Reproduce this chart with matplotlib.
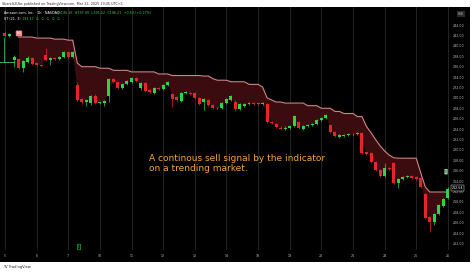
import numpy as np
import matplotlib.pyplot as plt
from matplotlib.patches import Rectangle

# hourly candles, open / high / low / close
opens = [242.5, 241.9, 237.3, 237.4, 235.8, 236.9, 237.6, 236.7, 236.3, 238.2,
         237.3, 237.6, 237.5, 237.9, 238.8, 237.9, 232.5, 229.8, 229.3, 229.0,
         230.4, 229.0, 229.0, 230.4, 233.6, 233.05, 231.9, 232.7, 233.1, 233.8,
         231.9, 232.9, 231.6, 230.9, 231.9, 231.7, 232.5, 230.75, 230.2, 229.4,
         230.9, 231.0, 230.9, 230.0, 229.2, 229.6, 228.6, 228.0, 228.0, 229.0,
         229.6, 229.2, 227.9, 228.5, 228.8, 229.05, 229.0, 228.9, 228.8, 225.4,
         225.0, 224.3, 224.0, 224.3, 224.6, 225.4, 224.0, 224.6, 224.8, 224.9,
         225.75, 226.1, 224.8, 223.4, 222.5, 222.7, 222.8, 223.0, 223.0, 223.25,
         219.6, 219.4, 217.7, 216.1, 215.0, 216.5, 217.5, 213.6, 214.4, 214.8,
         215.0, 214.7, 214.6, 211.5, 207.1, 206.1, 207.7, 209.2, 210.75]
highs = [242.8, 242.5, 238.2, 237.6, 237.2, 238.0, 237.9, 236.9, 236.4, 239.6,
         237.9, 237.8, 238.1, 239.0, 239.1, 239.0, 233.0, 230.0, 229.7, 230.6,
         230.7, 229.4, 229.6, 233.8, 233.9, 233.2, 232.9, 233.5, 234.0, 234.0,
         233.1, 233.1, 231.8, 232.1, 232.1, 232.7, 233.3, 231.0, 230.4, 231.1,
         231.3, 231.2, 231.1, 230.2, 230.0, 229.8, 228.8, 228.3, 229.2, 230.0,
         230.6, 229.5, 229.0, 229.0, 229.2, 229.2, 229.2, 229.3, 229.0, 225.6,
         225.2, 224.5, 224.5, 224.7, 226.8, 225.6, 224.8, 225.0, 225.1, 225.9,
         226.3, 226.9, 225.0, 223.6, 223.0, 223.1, 223.2, 223.3, 223.5, 223.5,
         219.8, 219.6, 217.9, 216.3, 217.5, 216.8, 217.7, 214.6, 215.0, 215.2,
         215.2, 214.9, 214.8, 211.8, 207.3, 207.9, 209.6, 210.8, 212.8]
lows = [241.7, 241.7, 236.0, 235.6, 235.0, 236.7, 236.4, 236.1, 235.9, 237.0,
        236.4, 237.3, 237.3, 237.7, 237.6, 237.7, 229.4, 228.9, 228.5, 228.7,
        228.8, 228.8, 228.4, 229.2, 232.9, 231.7, 231.7, 232.5, 232.9, 233.1,
        231.6, 231.1, 230.9, 230.7, 231.5, 231.5, 232.3, 228.25, 229.3, 229.2,
        230.7, 230.6, 229.8, 228.6, 227.7, 228.4, 227.8, 227.8, 227.8, 228.8,
        229.4, 227.5, 227.6, 228.3, 228.6, 228.7, 228.6, 228.7, 225.2, 224.9,
        224.2, 223.8, 223.8, 224.1, 224.4, 224.0, 223.8, 224.4, 224.6, 224.7,
        225.5, 225.9, 223.2, 222.5, 222.3, 222.5, 222.6, 222.8, 222.8, 219.2,
        219.0, 217.5, 215.9, 214.8, 214.8, 216.2, 213.4, 212.7, 214.2, 214.6,
        214.4, 214.2, 212.7, 206.7, 204.2, 205.5, 207.5, 209.0, 210.5]
closes = [241.9, 242.3, 237.9, 235.8, 237.0, 237.7, 236.6, 236.3, 236.1, 237.3,
          237.7, 237.5, 237.9, 238.8, 237.9, 238.8, 229.6, 229.2, 229.5, 230.4,
          229.0, 229.2, 229.4, 233.6, 233.05, 231.9, 232.7, 233.3, 233.8, 233.3,
          232.9, 231.3, 231.1, 231.9, 231.7, 232.5, 233.05, 229.8, 229.6, 230.9,
          231.1, 230.75, 230.0, 228.8, 229.8, 228.6, 228.0, 228.1, 229.0, 229.8,
          230.4, 227.9, 228.8, 228.8, 229.0, 228.9, 228.8, 229.0, 225.4, 225.2,
          224.4, 224.0, 224.3, 224.5, 226.6, 224.2, 224.6, 224.8, 224.9, 225.75,
          226.1, 226.7, 223.4, 222.7, 222.8, 222.9, 223.0, 223.1, 223.25, 219.4,
          219.2, 217.7, 216.1, 215.0, 216.5, 216.4, 213.6, 214.4, 214.8, 215.0,
          214.6, 214.4, 212.9, 206.9, 206.1, 207.7, 209.4, 210.6, 212.54]

# sell-side trailing line (indicator), one value per bar
st_line = [np.nan, np.nan, np.nan,
           241.7, 241.7, 241.7, 241.7, 241.5, 241.5, 241.5, 241.5,
           241.3, 241.3, 241.3, 241.1, 241.1, 236.7,
           236.0, 236.0, 236.0, 236.0, 235.7, 235.7, 235.7,
           235.3, 235.3, 235.3, 235.3, 235.0, 235.0, 235.0, 235.0, 235.0, 235.0,
           234.6, 234.6, 234.6, 234.3, 234.3, 234.3, 234.3, 234.3, 234.3, 234.3,
           234.2, 234.2, 233.7, 233.4, 233.4, 233.4, 233.1, 233.1, 233.1, 233.1,
           232.6, 232.6, 232.6, 232.1, 230.0, 229.6, 229.2, 229.2,
           229.0, 229.0, 229.0, 229.0, 229.0, 228.5, 228.5, 228.5,
           228.0, 228.0, 228.0, 227.4, 227.4, 227.0, 227.0, 227.0, 226.4, 226.4,
           224.5, 223.3, 222.0, 220.8, 219.8, 219.0, 218.5,
           218.4, 218.4, 218.4, 218.4, 218.4, 215.6, 212.9,
           211.9, 211.9, 211.9, 211.9, 211.9]

day_ticks = [0, 7, 14, 21, 28, 35, 42, 49, 56, 63, 70, 77, 84, 91, 98]
day_labels = ['5', '6', '7', '10', '11', '12', '13', '14', '18', '19',
              '20', '21', '24', '25', '26']
price_ticks = list(range(202, 246, 2))

W, H = 474, 272


def fx(px):
    return px / W


def fy(py):
    return 1 - py / H


fig = plt.figure(figsize=(W / 100, H / 100), dpi=100, facecolor='white')
fig.patches.append(Rectangle((0, fy(262)), fx(470), fy(7) - fy(262),
                             transform=fig.transFigure, facecolor='black',
                             edgecolor='none', zorder=-5))

ax = fig.add_axes([0, fy(250), fx(451), fy(7) - fy(250)])
ax.set_facecolor('black')
for s in ax.spines.values():
    s.set_visible(False)

n = len(closes)
idx = np.arange(n)
o = np.array(opens)
c = np.array(closes)
hi = np.array(highs)
lo = np.array(lows)
st = np.array(st_line)

for t in day_ticks:
    ax.axvline(t, color='#242424', lw=0.7, zorder=1)

# fill between indicator and candle bodies
mid = (o + c) / 2
ok = ~np.isnan(st)
ax.fill_between(idx[ok], st[ok], mid[ok], color='#3a0c10', lw=0, zorder=2)
ax.plot(idx[ok], st[ok], color='#cf8585', lw=0.8, zorder=3)
# previous buy-side line
ax.plot([-1.5, 2], [236.9, 236.9], color='#3fae5a', lw=0.7, zorder=3)
ax.plot([-0.2, -0.2], [236.9, 241.6], color='#3fae5a', lw=0.6, zorder=3)

up = c >= o
colors = np.where(up, '#2bd643', '#e8242b')
ax.vlines(idx, lo, hi, colors=colors, lw=0.5, zorder=4)
body = np.maximum(np.abs(c - o), 0.12)
ax.bar(idx, body, bottom=np.minimum(o, c), width=0.66, color=colors,
       lw=0, zorder=5)

ax.text(3.1, 242.4, 'Sell', fontsize=1.8, color='white', ha='center',
        va='center', zorder=6,
        bbox=dict(boxstyle='round,pad=0.35', fc='#f28a8a', ec='none'))
ax.text(97.6, 215.8, 'B', fontsize=1.8, color='#1a4d26', ha='center',
        va='center', zorder=6,
        bbox=dict(boxstyle='round,pad=0.3', fc='#8fd49e', ec='none'))

ax.set_xlim(-1.1, 98.7)
ax.set_ylim(200.75, 247.48)
ax.set_xticks(day_ticks)
ax.set_xticklabels(day_labels)
ax.set_yticks(price_ticks)
ax.set_yticklabels([f'{p:.2f}' for p in price_ticks])
ax.yaxis.tick_right()
ax.tick_params(axis='both', length=0, colors='#b8bcc4', labelsize=2.3)
ax.tick_params(axis='x', pad=3.2)
ax.tick_params(axis='y', pad=1.0)

# header texts
fig.text(fx(2), fy(4), 'ShareIt2Ube published on TradingView.com, Mar 22, 2025 19:45 UTC+5',
         fontsize=2.4, color='#333333', va='center')
fig.text(fx(4), fy(13), 'Amazon.com, Inc. · 1h · NASDAQ', fontsize=2.4,
         color='white', va='center')
fig.text(fx(58), fy(13), 'O195.16  H197.00  L195.52  C196.21  +0.53 (+0.27%)',
         fontsize=2.4, color='#2bd643', va='center')
fig.text(fx(4), fy(19), 'ST (21, 3)', fontsize=2.4, color='white', va='center')
fig.text(fx(22), fy(19), '193.17  ∅  ∅  ∅  ∅  ∅', fontsize=2.4,
         color='#2bd643', va='center')
fig.text(fx(461), fy(14), 'USD', fontsize=2.0, color='#cccccc', ha='center',
         va='center', bbox=dict(boxstyle='square,pad=0.4', fc='#2a2a2a', ec='none'))
fig.text(fx(452), fy(188), '212.54', fontsize=2.3, color='white', va='center',
         bbox=dict(boxstyle='square,pad=0.3', fc='black', ec='white', lw=0.3))
fig.text(fx(79), fy(247), 'E', fontsize=2.0, color='#2bd643', ha='center',
         va='center', bbox=dict(boxstyle='round,pad=0.3', fc='black',
                                ec='#2bd643', lw=0.4))

fig.text(fx(149), fy(154), 'A continous sell signal by the indicator\non a trending market.',
         fontsize=6.5, color='#f2a53a', va='top', linespacing=1.15)

fig.text(fx(3), fy(267), 'TV TradingView', fontsize=2.6, color='#222222',
         va='center')

plt.savefig('out.png', dpi=100, facecolor='white')
